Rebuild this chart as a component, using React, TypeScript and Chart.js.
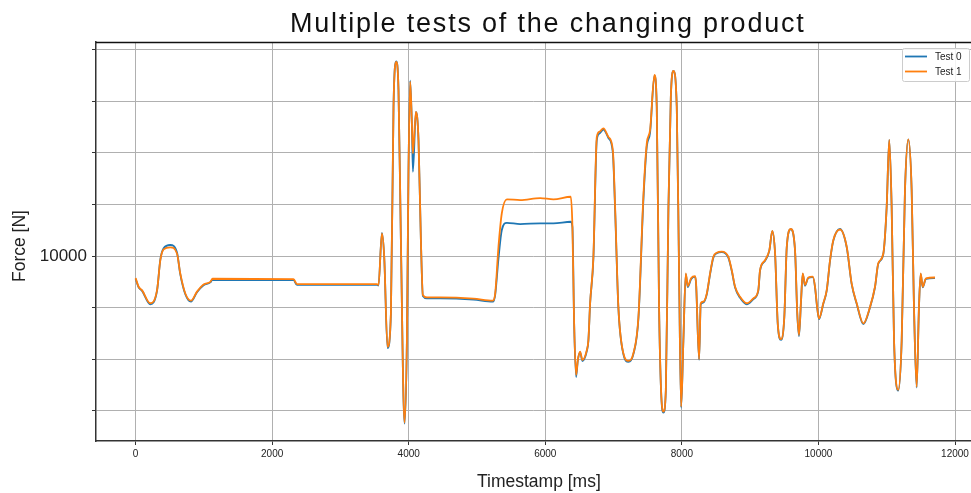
import React, { useEffect, useRef } from "react";
import { Chart, registerables } from "chart.js";

Chart.register(...registerables);

const timeMs = [
  0, 44, 93, 215, 314, 362, 410, 508, 606, 654, 728, 811, 899, 995, 1094, 1127,
  2313, 2363, 3534, 3557, 3607, 3641, 3689, 3739, 3777, 3816, 3850, 3885, 3938,
  3973, 3996, 4021, 4046, 4061, 4105, 4143, 4178, 4207, 4266, 4461, 4948, 5232,
  5266, 5314, 5363, 5437, 5632, 5924, 6119, 6373, 6397, 6422, 6451, 6476, 6510,
  6543, 6608, 6631, 6656, 6704, 6754, 6793, 6851, 6924, 6989, 7022, 7070, 7143,
  7217, 7290, 7364, 7436, 7486, 7534, 7598, 7632, 7666, 7695, 7729, 7765, 7803,
  7838, 7875, 7925, 7959, 7989, 8022, 8057, 8086, 8134, 8193, 8208, 8252, 8276,
  8314, 8365, 8413, 8461, 8511, 8584, 8680, 8730, 8779, 8852, 8950, 9047, 9119,
  9145, 9218, 9281, 9324, 9365, 9404, 9452, 9500, 9536, 9594, 9657, 9690, 9715,
  9745, 9770, 9803, 9851, 9917, 9950, 9975, 10008, 10071, 10121, 10170, 10218,
  10316, 10414, 10486, 10560, 10657, 10755, 10828, 10876, 10950, 10999, 11037,
  11072, 11107, 11169, 11219, 11267, 11316, 11365, 11399, 11438, 11472, 11497,
  11527, 11575, 11707,
];

const test1Force = [
  9915, 9881, 9868, 9817, 9868, 9984, 10026, 10034, 10010, 9933, 9855, 9827, 9862,
  9890, 9900, 9912, 9911, 9891, 9891, 9888, 10088, 9997, 9648, 9779, 10579, 10753,
  10643, 10062, 9354, 9674, 10322, 10676, 10514, 10398, 10559, 10450, 10062, 9849,
  9840, 9840, 9835, 9827, 9855, 10036, 10166, 10220, 10217, 10225, 10220, 10230,
  10114, 9740, 9539, 9597, 9629, 9597, 9636, 9674, 9817, 9997, 10462, 10482, 10495,
  10462, 10411, 10191, 9803, 9623, 9594, 9623, 9765, 10230, 10437, 10488, 10702,
  10579, 9803, 9481, 9397, 9481, 10191, 10617, 10718, 10579, 9933, 9416, 9674, 9933,
  9884, 9914, 9922, 9894, 9600, 9817, 9823, 9855, 9933, 9997, 10013, 10017, 9997,
  9946, 9881, 9842, 9817, 9836, 9868, 9946, 9984, 10023, 10098, 10010, 9739, 9678,
  9765, 10036, 10105, 10023, 9778, 9694, 9829, 9933, 9888, 9917, 9920, 9881, 9817,
  9758, 9817, 9868, 9984, 10062, 10103, 10036, 9894, 9817, 9739, 9803, 9881, 9972,
  10010, 10191, 10450, 10191, 9674, 9481, 9674, 10256, 10452, 10256, 9803, 9493,
  9803, 9933, 9881, 9914, 9917,
];

const test0Force = [
  9912, 9879, 9866, 9813, 9866, 9986, 10030, 10043, 10014, 9930, 9852, 9823, 9860,
  9887, 9898, 9908, 9907, 9888, 9888, 9886, 10090, 9995, 9643, 9777, 10579, 10755,
  10643, 10060, 9350, 9670, 10322, 10680, 10510, 10327, 10559, 10450, 10060, 9845,
  9836, 9836, 9831, 9823, 9850, 9990, 10101, 10129, 10124, 10127, 10127, 10133,
  10112, 9738, 9531, 9595, 9627, 9593, 9632, 9672, 9815, 9990, 10450, 10475, 10490,
  10458, 10400, 10180, 9800, 9620, 9590, 9620, 9760, 10215, 10425, 10478, 10700,
  10579, 9800, 9478, 9393, 9478, 10185, 10615, 10718, 10579, 9930, 9412, 9672, 9930,
  9880, 9910, 9920, 9890, 9598, 9813, 9820, 9852, 9930, 9994, 10011, 10015, 9994,
  9943, 9878, 9838, 9813, 9833, 9865, 9944, 9982, 10021, 10097, 10008, 9736, 9675,
  9763, 10034, 10104, 10021, 9775, 9690, 9826, 9931, 9885, 9915, 9918, 9879, 9814,
  9755, 9815, 9866, 9982, 10060, 10105, 10034, 9892, 9815, 9736, 9801, 9879, 9970,
  10008, 10189, 10450, 10189, 9672, 9478, 9672, 10254, 10452, 10254, 9801, 9490,
  9801, 9931, 9879, 9912, 9915,
];

const xTickValues = [0, 2000, 4000, 6000, 8000, 10000, 12000];
const yGridValues = [9400, 9600, 9800, 10000, 10200, 10400, 10600, 10800];
const yLabelledValues = [10000];
const seriesLabels = ["Test 0", "Test 1"];
const seriesColors = ["#1f77b4", "#ff7f0e"];
const titleText = "Multiple tests of the changing product";
const xAxisTitle = "Timestamp [ms]";
const yAxisTitle = "Force [N]";

const FONT = "'Liberation Sans', Arial, Helvetica, sans-serif";

export default function App() {
  const ref = useRef<HTMLCanvasElement>(null);

  useEffect(() => {
    document.body.style.margin = "0";
    const canvas = ref.current;
    if (!canvas) return;

    const decor = {
      id: "decor",
      afterDraw(chart: any) {
        const c = chart.ctx as CanvasRenderingContext2D;
        const a = chart.chartArea;
        c.save();
        // top spine
        c.strokeStyle = "#111";
        c.lineWidth = 1.3;
        c.beginPath();
        c.moveTo(a.left, a.top + 0.5);
        c.lineTo(a.right, a.top + 0.5);
        c.stroke();

        // title
        c.fillStyle = "#111";
        c.font = `27px ${FONT}`;
        (c as any).letterSpacing = "1.8px";
        c.textAlign = "left";
        c.textBaseline = "alphabetic";
        c.fillText(titleText, 290, 31.5);
        (c as any).letterSpacing = "0px";

        // x axis title
        c.font = `17.5px ${FONT}`;
        c.fillStyle = "#222";
        c.textAlign = "left";
        c.fillText(xAxisTitle, 477, 486.5);

        // y axis title
        c.save();
        c.translate(25, 246);
        c.rotate(-Math.PI / 2);
        c.textAlign = "center";
        c.textBaseline = "alphabetic";
        c.fillText(yAxisTitle, 0, 0);
        c.restore();

        // legend
        const bx = 902, by = 48, bw = 67, bh = 33;
        c.fillStyle = "rgba(255,255,255,0.85)";
        c.strokeStyle = "#cccccc";
        c.lineWidth = 1;
        c.beginPath();
        (c as any).roundRect(bx + 0.5, by + 0.5, bw, bh, 2);
        c.fill();
        c.stroke();
        c.font = `10px ${FONT}`;
        c.textBaseline = "middle";
        c.textAlign = "left";
        seriesLabels.forEach((lab, i) => {
          const yy = 56.5 + i * 15;
          c.strokeStyle = seriesColors[i];
          c.lineWidth = 1.8;
          c.beginPath();
          c.moveTo(905, yy);
          c.lineTo(927, yy);
          c.stroke();
          c.fillStyle = "#222";
          c.fillText(lab, 935, yy + 0.5);
        });
        c.restore();
      },
    };

    const chart = new Chart(canvas, {
      type: "line",
      data: {
        datasets: [
          {
            label: seriesLabels[0],
            data: timeMs.map((t, i) => ({ x: t, y: test0Force[i] })),
            borderColor: seriesColors[0],
            backgroundColor: seriesColors[0],
            borderWidth: 1.8,
            pointRadius: 0,
            cubicInterpolationMode: "monotone",
            order: 2,
          },
          {
            label: seriesLabels[1],
            data: timeMs.map((t, i) => ({ x: t, y: test1Force[i] })),
            borderColor: seriesColors[1],
            backgroundColor: seriesColors[1],
            borderWidth: 1.8,
            pointRadius: 0,
            cubicInterpolationMode: "monotone",
            order: 1,
          },
        ],
      },
      options: {
        animation: false,
        responsive: false,
        maintainAspectRatio: false,
        layout: { padding: { top: 42, left: 0, right: 0, bottom: 0 } },
        plugins: {
          legend: { display: false },
          title: { display: false },
          tooltip: { enabled: false },
        },
        scales: {
          x: {
            type: "linear",
            min: -580,
            max: 12234,
            afterBuildTicks: (s: any) => {
              s.ticks = xTickValues.map((v) => ({ value: v }));
            },
            afterFit: (s: any) => {
              s.height = 52;
              s.paddingLeft = 0;
              s.paddingRight = 0;
            },
            grid: {
              color: "#b0b0b0",
              lineWidth: 1,
              tickLength: 4,
              tickColor: "#333",
            },
            border: { color: "#333", width: 1.5 },
            ticks: {
              font: { family: FONT, size: 10 },
              color: "#222",
              padding: 3,
              maxRotation: 0,
              autoSkip: false,
              callback: (v: any) => String(v),
            },
          },
          y: {
            type: "linear",
            min: 9283,
            max: 10830,
            afterBuildTicks: (s: any) => {
              s.ticks = yGridValues.map((v) => ({ value: v }));
            },
            afterFit: (s: any) => {
              s.width = 96;
              s.paddingTop = 0;
              s.paddingBottom = 0;
            },
            grid: {
              color: "#b0b0b0",
              lineWidth: 1,
              tickLength: 4,
              tickColor: "#333",
            },
            border: { color: "#333", width: 1.5 },
            ticks: {
              font: { family: FONT, size: 17 },
              color: "#222",
              padding: 5,
              autoSkip: false,
              callback: (v: any) => (yLabelledValues.includes(Number(v)) ? String(v) : ""),
            },
          },
        },
      },
      plugins: [decor],
    } as any);

    return () => chart.destroy();
  }, []);

  return (
    <div style={{ width: 971, height: 493 }}>
      <canvas ref={ref} width={971} height={493} style={{ display: "block" }} />
    </div>
  );
}
